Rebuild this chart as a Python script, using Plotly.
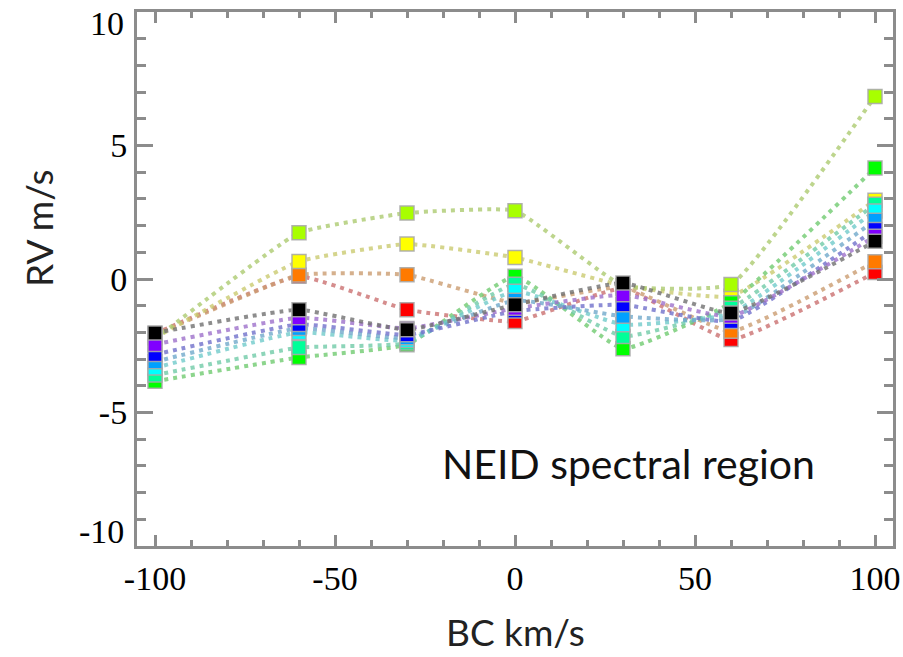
import plotly.graph_objects as go

bc = [-100, -60, -30, 0, 30, 60, 100]

names = ["red", "orange", "yellow", "lime", "green", "springgreen",
         "cyan", "azure", "blue", "purple", "black"]
colors = ["#ff0000", "#ff7a00", "#ffff00", "#a8ff00", "#00ff00", "#00ff99",
          "#00ffff", "#00a0ff", "#0000ff", "#8000ff", "#000000"]

rv_red =         [-2.05, 0.10, -1.15, -1.59, -0.35, -2.27, 0.24]
rv_orange =      [-2.10, 0.15, 0.16, -0.90, -0.30, -1.96, 0.65]
rv_yellow =      [-2.20, 0.66, 1.31, 0.81, -0.25, -0.65, 2.95]
rv_lime =        [-2.25, 1.73, 2.47, 2.56, -0.25, -0.21, 6.84]
rv_green =       [-3.83, -2.94, -2.46, 0.10, -2.61, -0.89, 4.16]
rv_springgreen = [-3.60, -2.57, -2.40, -0.20, -2.15, -1.10, 2.80]
rv_cyan =        [-3.33, -2.00, -2.30, -0.46, -1.71, -1.30, 2.55]
rv_azure =       [-3.10, -1.85, -2.20, -0.80, -1.40, -1.50, 2.20]
rv_blue =        [-2.83, -1.70, -2.09, -1.20, -0.96, -1.59, 1.85]
rv_purple =      [-2.45, -1.45, -1.85, -1.10, -0.59, -1.40, 1.60]
rv_black =       [-2.02, -1.15, -1.90, -0.96, -0.15, -1.27, 1.41]

series = [rv_red, rv_orange, rv_yellow, rv_lime, rv_green, rv_springgreen,
          rv_cyan, rv_azure, rv_blue, rv_purple, rv_black]

x_ticks = [-100, -50, 0, 50, 100]
y_ticks = [-10, -5, 0, 5, 10]
y_edge_ticks = [10, -10]


def pale(hexc, f=0.35, g=175, a=0.8):
    r = int(hexc[1:3], 16); gg = int(hexc[3:5], 16); b = int(hexc[5:7], 16)
    r = int(f * r + (1 - f) * g); gg = int(f * gg + (1 - f) * g); b = int(f * b + (1 - f) * g)
    return f"rgba({r},{gg},{b},{a})"


fig = go.Figure()
for name, col, vals in zip(names, colors, series):
    fig.add_trace(go.Scatter(
        x=bc, y=vals, mode="lines", name=name,
        line=dict(color=pale(col), width=4, dash="4px,5px", shape="spline", smoothing=0.35),
        showlegend=False, hoverinfo="skip"))
for name, col, vals in zip(names, colors, series):
    fig.add_trace(go.Scatter(
        x=bc, y=vals, mode="markers", name=name,
        marker=dict(symbol="square", size=14, color=col,
                    line=dict(color="rgba(170,170,170,0.9)", width=1.5)),
        showlegend=False))

tick_font = dict(family="Liberation Serif", size=34, color="black")
axis_common = dict(
    showline=True, linecolor="#8c8c8c", linewidth=3, mirror="allticks",
    ticks="inside", tickcolor="#8c8c8c", tickwidth=3,
    showgrid=False, zeroline=False, ticklabeloverflow="allow", automargin=False,
    tickfont=tick_font,
)

fig.update_xaxes(
    range=[-105, 105], tickvals=x_ticks, ticktext=[str(v) for v in x_ticks],
    ticklen=11,
    minor=dict(ticks="inside", dtick=10, tick0=0, ticklen=6, tickwidth=3, tickcolor="#8c8c8c"),
    **axis_common)
fig.update_yaxes(
    range=[-10.002, 10.002], tickvals=y_ticks,
    ticktext=["" if v in y_edge_ticks else str(v) for v in y_ticks],
    ticklen=16,
    minor=dict(ticks="inside", dtick=1, tick0=0, ticklen=9, tickwidth=3, tickcolor="#8c8c8c"),
    **axis_common)

# edge tick labels nudged inward (as in the original IDL plot)
for v in y_edge_ticks:
    fig.add_annotation(x=-0.0146, y=v, xref="paper", yref="y", xanchor="right", yanchor="middle",
                       text=str(v), showarrow=False, font=tick_font,
                       yshift=-11 if v > 0 else 14)

title_font = dict(family="Lato", size=37, color="#222")
fig.add_annotation(x=-0.13, y=0.595, xref="paper", yref="paper", xanchor="center", yanchor="middle",
                   text="RV m/s", textangle=-90, showarrow=False, font=title_font)
fig.add_annotation(x=0.5, y=-0.16, xref="paper", yref="paper", xanchor="center", yanchor="middle",
                   text="BC km/s", showarrow=False, font=title_font)

fig.add_annotation(
    x=0.9, y=0.155, xref="paper", yref="paper", xanchor="right", yanchor="middle",
    text="NEID spectral region", showarrow=False,
    font=dict(family="Lato", size=41, color="#111"))

fig.update_layout(
    width=903, height=657,
    margin=dict(l=137, r=10, t=12, b=111, autoexpand=False),
    paper_bgcolor="white", plot_bgcolor="white",
)

fig.write_html("out.html")
